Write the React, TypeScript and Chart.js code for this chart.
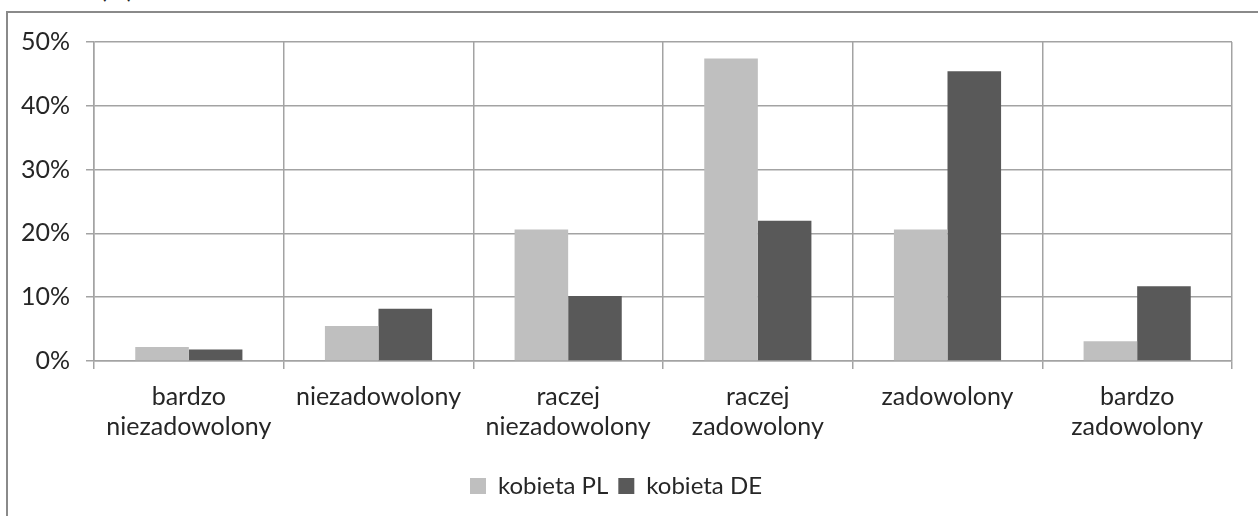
import React, { useEffect, useRef } from "react";
import { Chart, registerables } from "chart.js";

Chart.register(...registerables);

const categories: (string | string[])[] = [
  ["bardzo", "niezadowolony"],
  "niezadowolony",
  ["raczej", "niezadowolony"],
  ["raczej", "zadowolony"],
  "zadowolony",
  ["bardzo", "zadowolony"],
];
const seriesNames = ["kobieta PL", "kobieta DE"];
const kobietaPL = [2.2, 5.5, 20.6, 47.4, 20.6, 3.1];
const kobietaDE = [1.8, 8.2, 10.2, 22.0, 45.4, 11.7];
const yTickValues = [0, 10, 20, 30, 40, 50];
const yTickLabels = ["0%", "10%", "20%", "30%", "40%", "50%"];
const axisUnit = "(%)";

const FONT = "Lato";
const TEXT = "#262626";
const GRID = "#a3a3a3";

export default function App() {
  const ref = useRef<HTMLCanvasElement | null>(null);

  useEffect(() => {
    if (!ref.current) return;
    const chart = new Chart(ref.current, {
      type: "bar",
      data: {
        labels: categories,
        datasets: [
          {
            label: seriesNames[0],
            data: kobietaPL,
            backgroundColor: "#bfbfbf",
            barPercentage: 1,
            categoryPercentage: 0.565,
          },
          {
            label: seriesNames[1],
            data: kobietaDE,
            backgroundColor: "#595959",
            barPercentage: 1,
            categoryPercentage: 0.565,
          },
        ],
      },
      options: {
        animation: false,
        responsive: false,
        layout: { padding: { left: 0, top: 42, right: 26, bottom: 8 } },
        plugins: {
          tooltip: { enabled: false },
          legend: {
            position: "bottom",
            labels: {
              boxWidth: 16,
              boxHeight: 16,
              padding: 10,
              color: TEXT,
              font: { family: FONT, size: 24 },
            },
          },
        },
        scales: {
          x: {
            grid: { color: GRID, lineWidth: 1.5, offset: true, tickLength: 8 },
            border: { color: GRID, width: 1.5 },
            ticks: {
              color: TEXT,
              font: { family: FONT, size: 25, lineHeight: 1.2 },
              padding: 13,
              maxRotation: 0,
              autoSkip: false,
            },
            afterFit: (s: any) => {
              s.height = 103;
            },
          },
          y: {
            min: 0,
            max: 50,
            afterBuildTicks: (s: any) => {
              s.ticks = yTickValues.map((v) => ({ value: v }));
            },
            ticks: {
              color: TEXT,
              font: { family: FONT, size: 25 },
              padding: 16,
              callback: (v: any) => yTickLabels[yTickValues.indexOf(Number(v))] ?? "",
            },
            grid: { color: GRID, lineWidth: 1.5, tickLength: 8 },
            border: { color: GRID, width: 1.5 },
            afterFit: (s: any) => {
              s.width = 94;
            },
          },
        },
      },
    });
    return () => chart.destroy();
  }, []);

  return (
    <div
      style={{
        position: "fixed",
        left: 0,
        top: 0,
        width: 1258,
        height: 516,
        overflow: "hidden",
        background: "#fff",
      }}
    >
      <div
        style={{
          position: "absolute",
          left: 100,
          top: -24,
          fontFamily: FONT,
          fontSize: 25,
          lineHeight: "25px",
          color: TEXT,
        }}
      >
        {axisUnit}
      </div>
      <div
        style={{
          position: "absolute",
          left: 6,
          top: 11,
          width: 1300,
          height: 600,
          border: "2px solid #8a8a8a",
        }}
      />
      <canvas
        ref={ref}
        width={1258}
        height={516}
        style={{ position: "absolute", left: 0, top: 0, width: 1258, height: 516 }}
      />
    </div>
  );
}
